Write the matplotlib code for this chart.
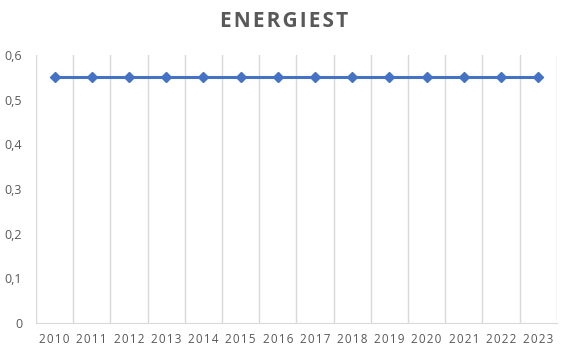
import matplotlib
matplotlib.use("Agg")
import matplotlib.pyplot as plt
import numpy as np

# data
years = ["2010", "2011", "2012", "2013", "2014", "2015", "2016",
         "2017", "2018", "2019", "2020", "2021", "2022", "2023"]
values = [0.55, 0.55, 0.55, 0.55, 0.55, 0.55, 0.55,
          0.55, 0.55, 0.55, 0.55, 0.55, 0.55, 0.55]
y_ticks = [0, 0.1, 0.2, 0.3, 0.4, 0.5, 0.6]
title = "ENERGIEST"

plt.rcParams['font.family'] = ['Open Sans', 'DejaVu Sans']
text_grey = '#595959'
grid_grey = '#d9d9d9'

fig = plt.figure(figsize=(5.67, 3.52), dpi=100)
ax = fig.add_axes([0.0635, 0.0824, 0.9185, 0.7616])

x = np.arange(len(years))
ax.plot(x, values, color='#4472C4', linewidth=2.2, marker='D',
        markersize=5, zorder=3)

ax.set_xlim(-0.5, len(years) - 0.5)
ax.set_ylim(0, 0.6)

# Excel-style vertical gridlines between categories
for b in np.arange(-0.5, len(years), 1.0):
    ax.axvline(b, color=grid_grey, linewidth=1, zorder=1)

ax.set_xticks(x)
ax.set_xticklabels(['\u200a'.join(y) for y in years], fontsize=8.5,
                   color=text_grey)
ax.set_yticks(y_ticks)
ax.set_yticklabels([('%g' % v).replace('.', ',') for v in y_ticks],
                   fontsize=9, color=text_grey)
ax.tick_params(axis='both', length=0)
ax.tick_params(axis='x', pad=7)
ax.tick_params(axis='y', pad=10)

for side in ['top', 'right', 'left']:
    ax.spines[side].set_visible(False)
ax.spines['bottom'].set_color(grid_grey)

# letter-spaced title like the Excel original
fig.text(0.501, 0.94, '\u200a'.join(title), ha='center', va='center',
         fontsize=15, fontweight='bold', color=text_grey)

fig.savefig('out.png', dpi=100)
